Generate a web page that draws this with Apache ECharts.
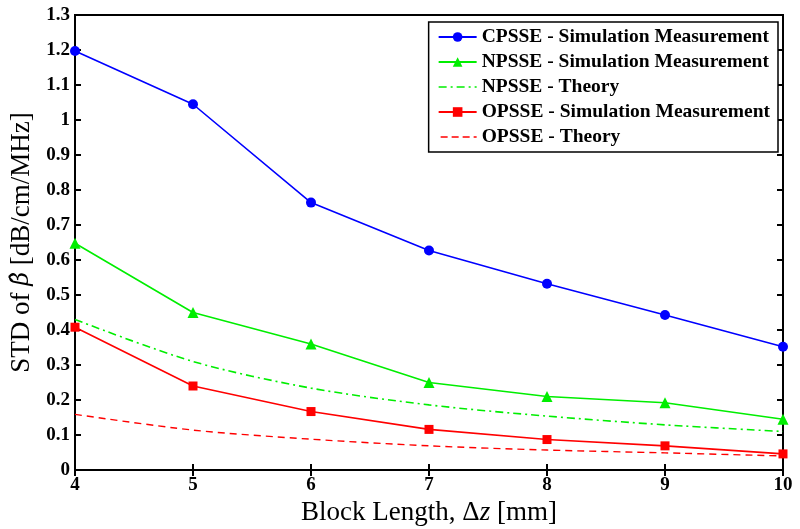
<!DOCTYPE html>
<html><head><meta charset="utf-8">
<script src="https://cdn.jsdelivr.net/npm/echarts@6/dist/echarts.min.js"></script>
<style>html,body{margin:0;padding:0;background:#fff}#c{width:800px;height:529px}</style>
</head><body><div id="c"></div>
<script>
const blockLength = [4, 5, 6, 7, 8, 9, 10];
const cpsseSim = [1.197, 1.045, 0.764, 0.627, 0.532, 0.443, 0.352];
const npsseSim = [0.648, 0.450, 0.360, 0.250, 0.210, 0.192, 0.145];
const npsseTheory = [0.430, 0.310, 0.234, 0.186, 0.154, 0.129, 0.110];
const opsseSim = [0.408, 0.240, 0.167, 0.116, 0.087, 0.069, 0.046];
const opsseTheory = [0.159, 0.114, 0.088, 0.069, 0.057, 0.049, 0.040];
const yTicks = ['0','0.1','0.2','0.3','0.4','0.5','0.6','0.7','0.8','0.9','1','1.1','1.2','1.3'];
const names = ['CPSSE - Simulation Measurement','NPSSE - Simulation Measurement','NPSSE - Theory','OPSSE - Simulation Measurement','OPSSE - Theory'];

const pair = arr => blockLength.map((x, i) => [x, arr[i]]);
const serif = '"Liberation Serif", "DejaVu Serif", serif';
// legend icons drawn as filled dash segments (38 x 12 box)
const dashDotIcon = 'path://M0,5.2h8v1.6h-8z M12,5.2h2v1.6h-2z M18,5.2h8v1.6h-8z M30,5.2h2v1.6h-2z M36,5.2h2v1.6h-2z M0,0h0.01v0.01h-0.01z M38,12h-0.01v-0.01h0.01z';
const dashIcon = 'path://M2,5.2h7v1.6h-7z M13,5.2h7v1.6h-7z M24,5.2h7v1.6h-7z M35,5.2h3v1.6h-3z M0,0h0.01v0.01h-0.01z M38,12h-0.01v-0.01h0.01z';
const chart = echarts.init(document.getElementById('c'));
const tick = {show: true, inside: true, length: 6, lineStyle: {color: '#000', width: 2}};
chart.setOption({
  animation: false,
  backgroundColor: '#fff',
  grid: {left: 75, right: 17, top: 15, bottom: 59, show: true, borderColor: '#000', borderWidth: 2,
    backgroundColor: '#fff', containLabel: false, outerBoundsMode: 'none'},
  legend: {
    orient: 'vertical', right: 22, top: 22,
    backgroundColor: '#fff', borderColor: '#000', borderWidth: 1.5, borderRadius: 0,
    padding: [5, 8, 5, 9], itemWidth: 38, itemHeight: 12, itemGap: 5,
    textStyle: {fontFamily: serif, fontWeight: 'bold', fontSize: 19.5, color: '#000'},
    data: [
      {name: names[0]}, {name: names[1]},
      {name: names[2], icon: dashDotIcon, itemStyle: {color: '#00ee00'}},
      {name: names[3]},
      {name: names[4], icon: dashIcon, itemStyle: {color: '#ff0000'}}
    ]
  },
  xAxis: [{
    type: 'value', min: 4, max: 10, interval: 1,
    name: '{a|Block Length, Δ}{i|z}{a| [mm]}', nameLocation: 'middle', nameGap: 26,
    nameTextStyle: {rich: {a: {fontFamily: serif, fontSize: 27, color: '#000'}, i: {fontFamily: serif, fontStyle: 'italic', fontSize: 27, color: '#000'}}},
    axisLine: {show: true, lineStyle: {color: '#000', width: 2}},
    axisTick: tick, splitLine: {show: false},
    axisLabel: {fontFamily: serif, fontWeight: 'bold', fontSize: 19, color: '#000', margin: 6}
  }, {
    type: 'value', min: 4, max: 10, interval: 1, position: 'top',
    axisLine: {show: true, lineStyle: {color: '#000', width: 2}},
    axisTick: tick, axisLabel: {show: false}, splitLine: {show: false}
  }],
  yAxis: [{
    type: 'value', min: 0, max: 1.3, interval: 0.1,
    name: '{a|STD of }{b|β̂}{a| [dB/cm/MHz]}', nameLocation: 'middle', nameGap: 40, nameRotate: 90,
    nameTextStyle: {rich: {
      a: {fontFamily: serif, fontSize: 27, color: '#000'},
      b: {fontFamily: '"DejaVu Serif", serif', fontStyle: 'italic', fontSize: 24, color: '#000'}}},
    axisLine: {show: true, lineStyle: {color: '#000', width: 2}},
    axisTick: tick, splitLine: {show: false},
    axisLabel: {fontFamily: serif, fontWeight: 'bold', fontSize: 19, color: '#000', margin: 5,
      formatter: v => yTicks[Math.round(v * 10)]}
  }, {
    type: 'value', min: 0, max: 1.3, interval: 0.1, position: 'right',
    axisLine: {show: true, lineStyle: {color: '#000', width: 2}},
    axisTick: tick, axisLabel: {show: false}, splitLine: {show: false}
  }],
  series: [
    {name: names[0], type: 'line', data: pair(cpsseSim), symbol: 'circle', symbolSize: 10,
      itemStyle: {color: '#0000ff'}, lineStyle: {color: '#0000ff', width: 1.6}},
    {name: names[1], type: 'line', data: pair(npsseSim), symbol: 'triangle', symbolSize: 11,
      itemStyle: {color: '#00ee00'}, lineStyle: {color: '#00ee00', width: 1.6}},
    {name: names[2], type: 'line', data: pair(npsseTheory), symbol: 'none', smooth: 0.3,
      itemStyle: {color: '#00ee00'}, lineStyle: {color: '#00ee00', width: 1.6, type: [8, 4, 2, 4]}},
    {name: names[3], type: 'line', data: pair(opsseSim), symbol: 'rect', symbolSize: 9,
      itemStyle: {color: '#ff0000'}, lineStyle: {color: '#ff0000', width: 1.6}},
    {name: names[4], type: 'line', data: pair(opsseTheory), symbol: 'none', smooth: 0.3,
      itemStyle: {color: '#ff0000'}, lineStyle: {color: '#ff0000', width: 1.4, type: [7, 5]}}
  ]
});
</script></body></html>
